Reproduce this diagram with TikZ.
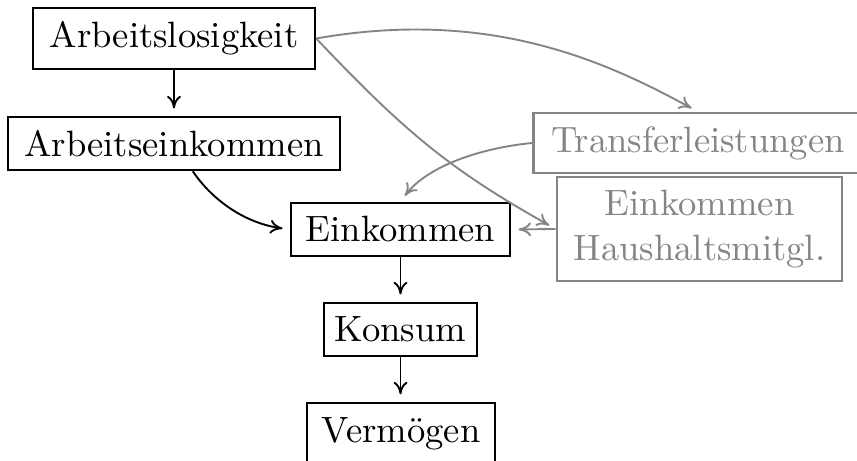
\documentclass[tikz,border=0pt]{standalone}
\usetikzlibrary{arrows.meta}
\definecolor{lightgr}{gray}{0.52}
\tikzset{
  box/.style={draw=black, line width=0.7pt, inner sep=1pt,
    font=\fontsize{10}{12.3}\selectfont, align=center},
  graybox/.style={box, draw=lightgr, text=lightgr},
  conn/.style={line width=0.52pt, -{To[length=3.4pt,width=3.8pt]}, shorten >=2pt},
  graycon/.style={conn, draw=lightgr},
}
\begin{document}
\begin{tikzpicture}[x=0.2732pt,y=-0.2732pt]
\useasboundingbox (0,0) rectangle (857,461);
\node[box, minimum width=77pt, minimum height=16.7pt] (AL) at (174,38.5) {Arbeitslosigkeit};
\node[box, minimum width=90.7pt, minimum height=14.5pt] (AE) at (174,143.5) {Arbeitseinkommen};
\node[box, minimum width=59.8pt, minimum height=14.5pt] (EK) at (400.5,229.5) {Einkommen};
\node[box, minimum width=41.8pt, minimum height=14.5pt] (KO) at (400.5,329.5) {Konsum};
\node[box, minimum width=51.4pt, minimum height=16.7pt] (VE) at (401,433.5) {Vermögen};
\node[graybox, minimum width=90pt, minimum height=16.4pt] (TR) at (698,143) {Transferleistungen};
\node[graybox, minimum width=77.9pt, minimum height=28.4pt] (HH) at (699.5,229) {Einkommen\\Haushaltsmitgl.};

\draw[conn] (AL.south) -- (AE.north);
\draw[conn] (AE.-56) .. controls +(22,32) and +(-42,-6) .. (EK.west);
\draw[conn] (EK.south) -- (KO.north);
\draw[conn] (KO.south) -- (KO.south |- VE.north);

\draw[graycon] (AL.east) .. controls +(177,-31.2) and +(-88,-47.7) .. (TR.north);
\draw[graycon] (AL.east) .. controls +(90,95) and +(-104.4,-58.8) .. (HH.west);
\draw[graycon] (TR.west) .. controls +(-60,6) and +(24,-32) .. (EK.north);
\draw[graycon] (HH.west) -- (EK.east);
\end{tikzpicture}
\end{document}
